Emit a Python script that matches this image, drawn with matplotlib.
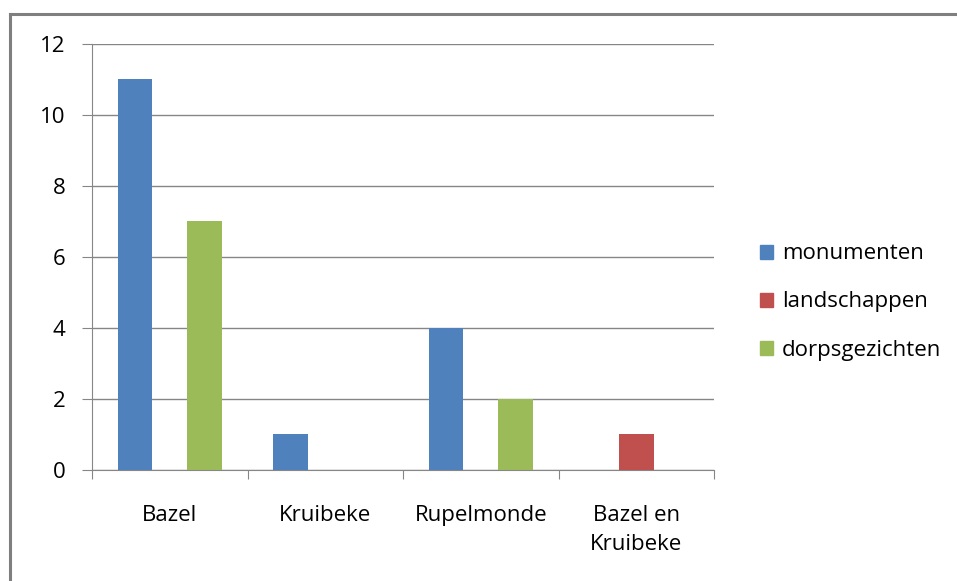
import numpy as np
import matplotlib.pyplot as plt
from matplotlib.lines import Line2D
import matplotlib.patches as mpatches

categories = ['Bazel', 'Kruibeke', 'Rupelmonde', 'Bazel en\nKruibeke']
series_names = ['monumenten', 'landschappen', 'dorpsgezichten']
monumenten = [11, 1, 4, 0]
landschappen = [0, 0, 0, 1]
dorpsgezichten = [7, 0, 2, 0]
colors = ['#4F81BD', '#C0504D', '#9BBB59']
yticks = [0, 2, 4, 6, 8, 10, 12]

plt.rcParams['font.family'] = ['Open Sans', 'DejaVu Sans']
grey = '#868686'
fs = 16

fig = plt.figure(figsize=(9.57, 5.81), dpi=100)
ax = fig.add_axes([92 / 957, 1 - 470 / 581, (714 - 92) / 957, (470 - 43.7) / 581])

x = np.arange(len(categories))
w = 1 / 4.5
for i, (vals, c) in enumerate(zip([monumenten, landschappen, dorpsgezichten], colors)):
    ax.bar(x + (i - 1) * w, vals, width=w, color=c, zorder=3)

ax.set_xlim(-0.5, len(categories) - 0.5)
ax.set_ylim(0, 12)
ax.set_yticks(yticks)
ax.set_yticklabels([str(t) for t in yticks], fontsize=fs)
ax.yaxis.grid(True, color=grey, linewidth=1.0, zorder=0)
ax.tick_params(axis='y', length=7.2, color=grey, pad=12)

ax.set_xticks(np.arange(-0.5, len(categories), 1.0))
ax.set_xticklabels([])
ax.set_xticks(x, minor=True)
ax.set_xticklabels(categories, minor=True, fontsize=fs, linespacing=1.5)
ax.tick_params(axis='x', which='major', length=6.5, color=grey)
ax.tick_params(axis='x', which='minor', length=0, pad=25)

for s in ['top', 'right']:
    ax.spines[s].set_visible(False)
for s in ['left', 'bottom']:
    ax.spines[s].set_color(grey)

handles = [mpatches.Patch(color=c, label=n) for c, n in zip(colors, series_names)]
fig.legend(handles=handles, loc='center left', bbox_to_anchor=(740 / 957, 1 - 302 / 581),
           frameon=False, fontsize=fs, handlelength=0.6, handleheight=0.6,
           handletextpad=0.4, labelspacing=1.22)

# outer chart border
fig.add_artist(Line2D([10 / 957, 10 / 957], [0, 1 - 14 / 581], color='#7f7f7f', linewidth=2.2))
fig.add_artist(Line2D([10 / 957, 1], [1 - 14 / 581, 1 - 14 / 581], color='#7f7f7f', linewidth=2.2))

plt.savefig('out.png', dpi=100)
